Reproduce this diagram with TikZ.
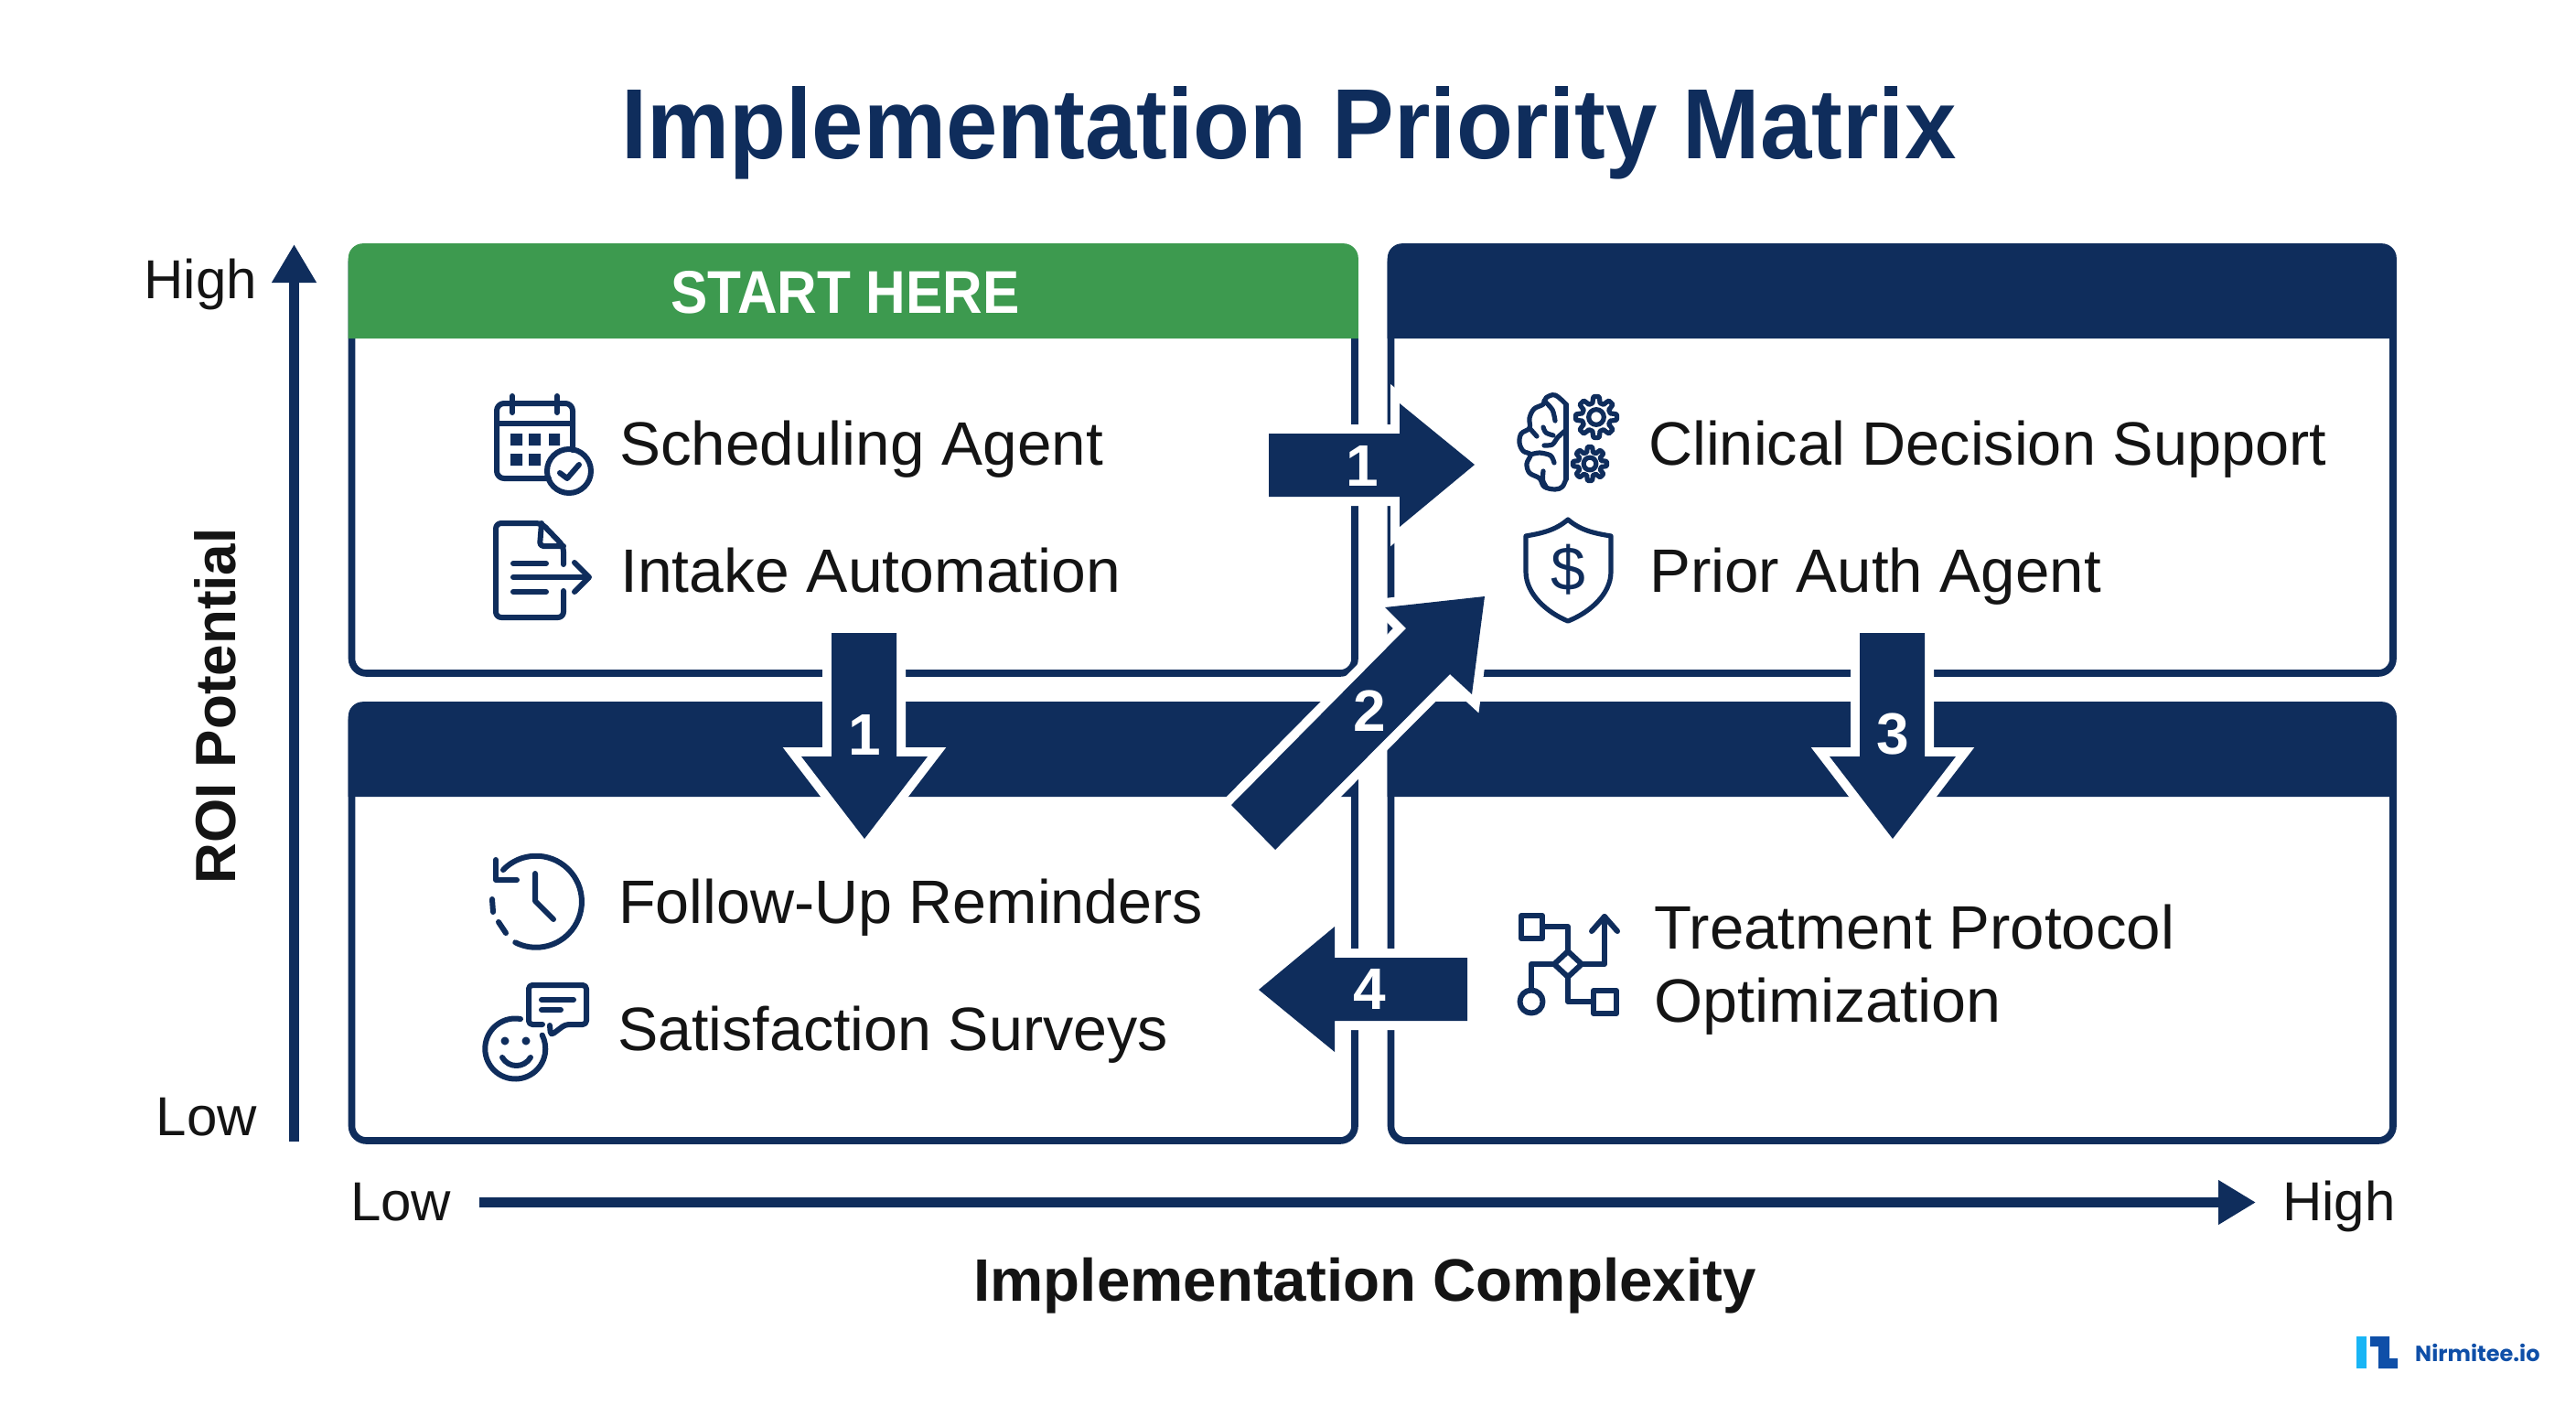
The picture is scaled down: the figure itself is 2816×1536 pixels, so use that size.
\documentclass[tikz,border=0pt]{standalone}
\usepackage{fontspec}
\usepackage{graphicx}
\setmainfont{Liberation Sans}
\newfontfamily\logofont{Poppins}
\usetikzlibrary{arrows.meta}
\definecolor{navy}{HTML}{0F2D5C}
\definecolor{sgreen}{HTML}{3D9A4F}
\definecolor{ink}{HTML}{141414}
\definecolor{logodark}{HTML}{0F4FA8}
\definecolor{logolight}{HTML}{19B5F5}
\newcommand{\fsz}[1]{\fontsize{#1}{#1}\selectfont}
\newcommand{\sx}[2]{\scalebox{#1}[1]{#2}}
\newcommand{\quadcard}[6]{%
  \draw[navy,line width=7.6pt,rounded corners=16pt] (#1,#2) rectangle (#3,#4);
  \fill[#6] (#1-3.8,#5) {[rounded corners=16pt] -- (#1-3.8,#2-3.8) -- (#3+3.8,#2-3.8)} -- (#3+3.8,#5) -- cycle;
}
\newcommand{\gearicon}[3]{%
  \draw[iconthin] plot[smooth cycle,samples=96,domain=0:356.25,variable=\t]
    ({#1+(#3*(0.85+0.15*max(-1,min(1,2.2*cos(8*\t)))))*cos(\t)},{#2+(#3*(0.85+0.15*max(-1,min(1,2.2*cos(8*\t)))))*sin(\t)});
  \draw[iconthin] (#1,#2) circle[radius=#3*0.37];
}
\tikzset{
  x=1pt,y=-1pt,
  itemtext/.style={anchor=base west,inner sep=0pt,text=ink,font=\fsz{67}},
  axistext/.style={inner sep=0pt,text=ink,font=\fsz{60}},
  axistitle/.style={inner sep=0pt,text=ink,font=\bfseries\fsz{62}},
  numtext/.style={inner sep=0pt,text=white,font=\bfseries\fsz{64}},
  blockarrow/.style={fill=navy,preaction={draw=white,line width=20pt,miter limit=10}},
  icon/.style={draw=navy,line width=6pt,line cap=round,line join=round,fill=none},
  iconthin/.style={draw=navy,line width=5.2pt,line cap=round,line join=round,fill=none},
}
\begin{document}
\begin{tikzpicture}
\useasboundingbox (0,0) rectangle (2816,1536);
\fill[white] (0,0) rectangle (2816,1536);

% title
\node[inner sep=0pt,anchor=base,text=navy] (title) at (1409,173)
  {\scalebox{0.93}[1]{\bfseries\fsz{109}Implementation Priority Matrix}};

% quadrants
\quadcard{384.5}{270}{1481}{736}{370}{sgreen}
\quadcard{1520.5}{270}{2616}{736}{370}{navy}
\quadcard{384.5}{771}{1481}{1247}{871}{navy}
\quadcard{1520.5}{771}{2616}{1247}{871}{navy}
\node[inner sep=0pt,text=white] (starthere) at (924,320)
  {\scalebox{0.915}[1]{\bfseries\fsz{66}START HERE}};

% axes
\coordinate (ybottom) at (321.5,1248);
\coordinate (ytop) at (321.5,267);
\coordinate (xleft) at (524,1314.5);
\coordinate (xright) at (2466,1314.5);
\draw[navy,line width=11pt,-{Triangle[length=42pt,width=46pt]}] (ybottom) -- (ytop);
\draw[navy,line width=11pt,-{Triangle[length=41pt,width=46pt]}] (xleft) -- (xright);
\node[axistext,anchor=base east] (yhigh) at (281,326) {High};
\node[axistext,anchor=base east] (ylow) at (281,1241) {Low};
\node[axistext,anchor=base west] (xlow) at (383,1334) {Low};
\node[axistext,anchor=base west] (xhigh) at (2495,1334) {High};
\node[axistitle,rotate=90] (ylabel) at (235,772) {ROI Potential};
\node[axistitle,anchor=base,font=\bfseries\fsz{65.5}] (xlabel) at (1492,1422) {Implementation Complexity};

% item texts
\node[itemtext] (sched) at (677,508) {\sx{1.007}{Scheduling Agent}};
\node[itemtext] (intake) at (678,647) {\sx{1.013}{Intake Automation}};
\node[itemtext] (clin) at (1802,508) {\sx{0.995}{Clinical Decision Support}};
\node[itemtext] (prior) at (1803,647) {\sx{1.004}{Prior Auth Agent}};
\node[itemtext] (follow) at (676,1009) {\sx{0.992}{Follow-Up Reminders}};
\node[itemtext] (satis) at (675,1148) {\sx{0.991}{Satisfaction Surveys}};
\node[itemtext] (treat) at (1808,1037) {\sx{1.003}{Treatment Protocol}};
\node[itemtext] (optim) at (1808,1117) {\sx{1.02}{Optimization}};

% calendar icon
\draw[icon,rounded corners=8pt] (600,523) -- (543,523) -- (543,441) -- (626,441) -- (626,492);
\draw[icon] (543,463) -- (626,463);
\draw[icon] (560,433) -- (560,451) (609,433) -- (609,451);
\fill[navy] (558,474) rectangle (571,487) (578,474) rectangle (591,487) (600,474) rectangle (612,487)
  (558,496) rectangle (571,509) (578,496) rectangle (591,509);
\draw[icon] (622,515) circle[radius=24];
\draw[icon] (612,517) -- (620,523) -- (633,508);

% document icon
\draw[icon,rounded corners=6pt] (616,617) -- (616,597) -- (592,572) -- (542,572) -- (542,675) -- (616,675) -- (616,646);
\draw[icon,rounded corners=4pt] (592,572) -- (590,597) -- (616,597);
\draw[icon] (561,616) -- (597,616) (561,631) -- (642,631) (561,647) -- (597,647);
\draw[icon] (628,615) -- (644,631) -- (628,647);

% brain and gears icon
\draw[iconthin] plot[smooth,tension=0.6] coordinates {(1712,442) (1700,432) (1690,435) (1687,442) (1677,447) (1672,457) (1672,468) (1663,474) (1661,484) (1665,493) (1673,497) (1669,507) (1672,517) (1683,523) (1688,532) (1700,535) (1708,532) (1712,523)};
\draw[iconthin] (1712,442) -- (1712,524);
\draw[iconthin] plot[smooth] coordinates {(1688,438) (1697,448) (1700,460)};
\draw[iconthin] plot[smooth] coordinates {(1672,468) (1680,477)};
\draw[iconthin] plot[smooth] coordinates {(1687,467) (1690,473) (1698,476)};
\draw[iconthin] plot[smooth] coordinates {(1712,470) (1703,478) (1697,486) (1688,487)};
\draw[iconthin] plot[smooth] coordinates {(1673,497) (1683,495) (1695,498) (1699,506)};
\draw[iconthin] plot[smooth] coordinates {(1687,515) (1686.5,525) (1690,532)};
\gearicon{1745}{456}{22.5}
\gearicon{1738}{507}{18.5}

% shield icon
\draw[iconthin] (1714,568) .. controls (1700,580) and (1685,583) .. (1668,586)
  -- (1668,625) .. controls (1668,650) and (1692,670) .. (1714,679)
  .. controls (1737,670) and (1761,650) .. (1761,625) -- (1761,586)
  .. controls (1743,583) and (1728,580) .. (1714,568) -- cycle;
\node[inner sep=0pt,text=navy,font=\fsz{68}] (dollar) at (1714.5,623) {\$};

% clock icon
\draw[icon] (550,951) arc[start angle=-136,end angle=117,radius=50];
\draw[icon] (542,940) -- (542,962) -- (565,962);
\draw[icon] (538,983) -- (539,997) (545,1008) -- (553,1020);
\draw[icon] (585,955) -- (585,985) -- (605,1005);

% smiley and bubble icon
\draw[icon] (569,1114) arc[start angle=-80,end angle=-387,radius=33];
\fill[navy] (552,1138) circle[radius=4.5] (575,1138) circle[radius=4.5];
\draw[icon] (549,1156) .. controls (556,1168) and (573,1168) .. (580,1156);
\draw[icon,rounded corners=4pt] (593,1120) -- (578,1120) -- (578,1077) -- (641,1077) -- (641,1120) -- (618,1120) -- (602,1132) -- (601,1121);
\draw[icon] (592,1093) -- (627,1093) (592,1104) -- (613,1104);

% flow icon
\draw[icon] (1663,1001) rectangle (1686,1026);
\draw[icon] (1686,1013) -- (1714,1013) -- (1714,1040);
\draw[icon] (1714,1040) -- (1729,1054) -- (1714,1068) -- (1699,1054) -- cycle;
\draw[icon] (1699,1054) -- (1674,1054) -- (1674,1082);
\draw[icon] (1674,1095) circle[radius=12.5];
\draw[icon] (1729,1054) -- (1754,1054) -- (1754,1002);
\draw[icon] (1740,1018) -- (1754,1002) -- (1768,1018);
\draw[icon] (1714,1068) -- (1714,1095) -- (1742,1095);
\draw[icon] (1742,1083) rectangle (1767,1108);

% block arrows
\path[blockarrow] (1387,474) -- (1530,474) -- (1530,441) -- (1612,508) -- (1530,576) -- (1530,543) -- (1387,543) -- cycle;
\node[numtext] (nr1) at (1489,509) {1};
\path[blockarrow] (909,692) -- (980,692) -- (980,827) -- (1014,827) -- (945,917) -- (876,827) -- (909,827) -- cycle;
\node[numtext] (nd1) at (945,803) {1};
\path[blockarrow] (2033,692) -- (2104,692) -- (2104,827) -- (2138,827) -- (2069,917) -- (2000,827) -- (2033,827) -- cycle;
\node[numtext] (n3) at (2069,803) {3};
\path[blockarrow] (1346,880) -- (1537,687) -- (1514,664) -- (1623,652) -- (1609,759) -- (1585,737) -- (1394,929) -- cycle;
\node[numtext] (n2) at (1497,777) {2};
\path[blockarrow] (1604,1047) -- (1459,1047) -- (1459,1013) -- (1376,1082) -- (1459,1150) -- (1459,1116) -- (1604,1116) -- cycle;
\node[numtext] (n4) at (1497,1081) {4};

% logo
\fill[logolight] (2576,1461) rectangle (2587,1496);
\fill[logodark] (2591,1461) -- (2612,1461) -- (2612,1485) -- (2621,1485) -- (2621,1496) -- (2600,1496) -- (2600,1472) -- (2591,1472) -- cycle;
\node[inner sep=0pt,anchor=west,text=logodark,font=\logofont\bfseries\fsz{24}] (logo) at (2640,1479) {Nirmitee.io};
\end{tikzpicture}
\end{document}
